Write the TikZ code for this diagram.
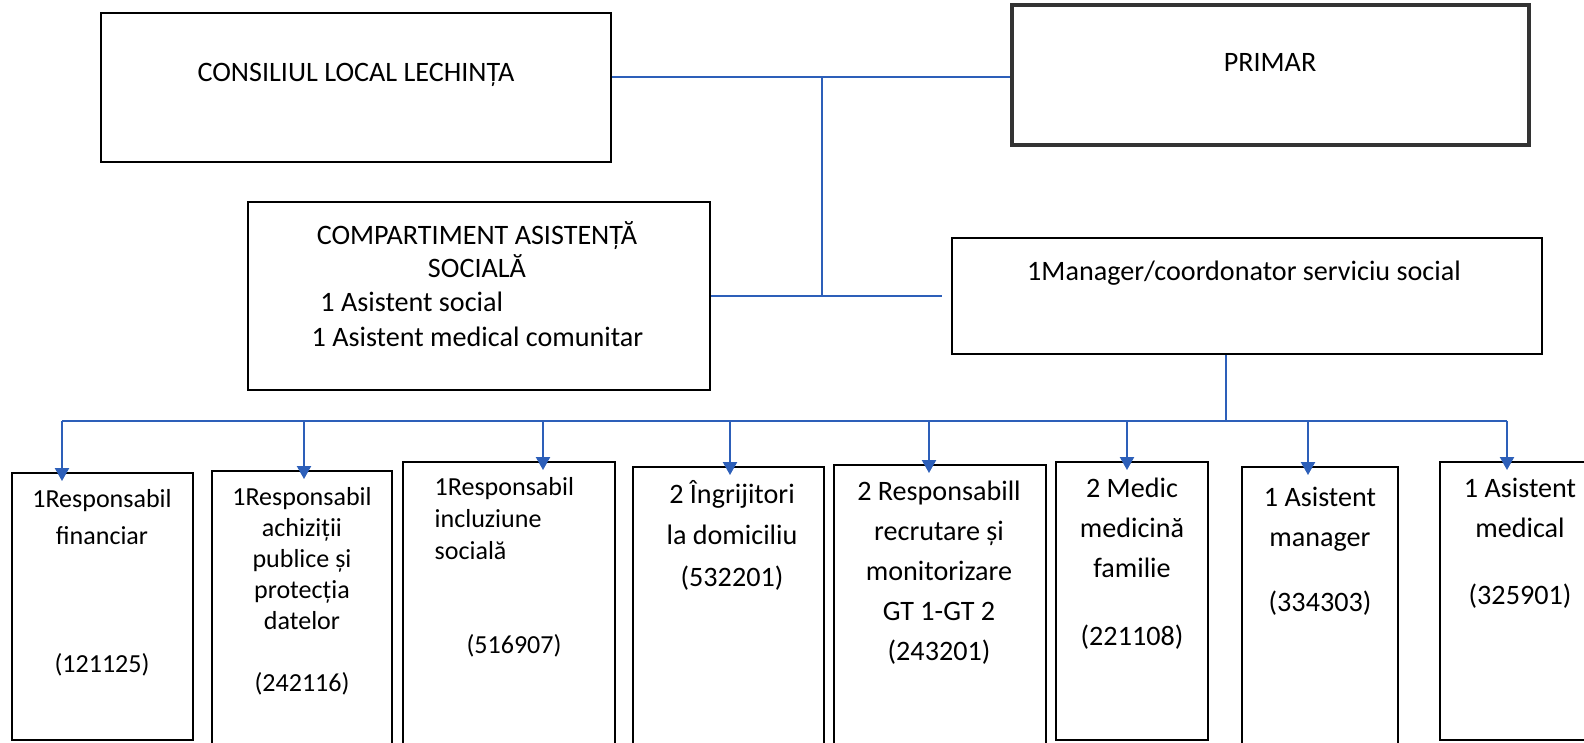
\documentclass[tikz,border=0pt]{standalone}
\usepackage{fontspec}
\setmainfont{Carlito}
\usetikzlibrary{arrows.meta}
\definecolor{linkblue}{RGB}{45,95,185}

\begin{document}
\begin{tikzpicture}[x=0.01cm, y=-0.01cm,
    box/.style={draw, line width=0.5pt, inner sep=0pt},
    txt/.style={inner sep=0pt, align=center, anchor=north},
    lead/.style={font=\fontsize{8}{#1}\selectfont},
    small/.style={font=\fontsize{7.4}{#1}\selectfont},
    link/.style={linkblue, line width=0.6pt},
    down/.style={link, shorten >=-0.09cm, -{Triangle[width=0.14cm, length=0.13cm]}}]

    \useasboundingbox (0,0) rectangle (1584,743);

    % Consiliul local
    \node[box, minimum width=5.10cm, minimum height=1.49cm] (cons) at (356,87.5) {};
    \node[txt, lead=10pt] (cons-t) at (356,63) {CONSILIUL LOCAL LECHINȚA};

    % Primar
    \node[box, line width=1pt, draw=black!80, minimum width=5.17cm, minimum height=1.40cm] (prim) at (1270.5,75) {};
    \node[txt, lead=10pt] (prim-t) at (1270,53) {PRIMAR};

    % Compartiment asistenta sociala
    \node[box, minimum width=4.62cm, minimum height=1.88cm] (comp) at (479,296) {};
    \node[txt, lead=9.4pt] (comp-t) at (477,221) {COMPARTIMENT ASISTENȚĂ\\SOCIALĂ};
    \node[txt, anchor=north west, align=left, lead=10pt] (comp-s) at (311,291)
        {\hspace{2.5pt}1 Asistent social\\1 Asistent medical comunitar};

    % Manager
    \node[box, minimum width=5.90cm, minimum height=1.16cm] (mgr) at (1247,296) {};
    \node[txt, lead=10pt] (mgr-t) at (1244,260) {1Manager/coordonator serviciu social};

    % bottom row
    \node[box, minimum width=1.81cm, minimum height=2.67cm] (fin) at (102.5,606.5) {};
    \node[txt, small=10.5pt] (fin-t) at (102,489) {1Responsabil\\financiar\\[25.9pt](121125)};

    \node[box, minimum width=1.80cm, minimum height=2.79cm] (ach) at (302,610.5) {};
    \node[txt, small=8.8pt] (ach-t) at (302,487)
        {1Responsabil\\achiziții\\publice și\\protecția\\datelor\\[8.8pt](242116)};

    \node[box, minimum width=2.12cm, minimum height=2.88cm] (incl) at (509,606) {};
    \node[txt, anchor=north west, align=left, small=9.1pt] (incl-t) at (434,477)
        {1Responsabil\\incluziune\\socială};
    \node[txt, small=9.1pt] (incl-c) at (514,634) {(516907)};

    \node[box, minimum width=1.91cm, minimum height=2.83cm] (ingr) at (728.5,608.5) {};
    \node[txt, lead=11.7pt] (ingr-t) at (732,480) {2 Îngrijitori\\la domiciliu\\(532201)};

    \node[box, minimum width=2.12cm, minimum height=2.85cm] (recr) at (940,607.5) {};
    \node[txt, lead=11.4pt] (recr-t) at (939,480)
        {2 Responsabill\\recrutare și\\monitorizare\\GT 1-GT 2\\(243201)};

    \node[box, minimum width=1.52cm, minimum height=2.78cm] (med) at (1132,601) {};
    \node[txt, lead=11.4pt] (med-t) at (1132,477) {2 Medic\\medicină\\familie\\[8pt](221108)};

    \node[box, minimum width=1.56cm, minimum height=2.83cm] (asm) at (1320,608.5) {};
    \node[txt, lead=11.4pt] (asm-t) at (1320,486) {1 Asistent\\manager\\[7.1pt](334303)};

    \node[box, minimum width=1.60cm, minimum height=2.78cm] (asmed) at (1520,601) {};
    \node[txt, lead=11.4pt] (asmed-t) at (1520,477) {1 Asistent\\medical\\[7.7pt](325901)};

    % links at the top
    \coordinate (hub) at (822,77);
    \draw[link] (hub -| cons.east) -- (hub -| prim.west);
    \draw[link] (hub) -- (hub |- comp.east);
    \draw[link, shorten >=0.09cm] (comp.east) -- (mgr.west);

    % bus to the bottom row
    \coordinate (bus) at (1226,421);
    \coordinate (busL) at (62,421);
    \coordinate (busR) at (1507,421);
    \draw[link] (mgr.south -| bus) -- (bus);
    \draw[link] (busL) -- (busR);
    \foreach \n/\x in {fin/62, ach/304, incl/543, ingr/730, recr/929, med/1127, asm/1308, asmed/1507} {
        \coordinate (tap-\n) at (\x,421);
        \draw[down] (tap-\n) -- (tap-\n |- \n.north);
    }

\end{tikzpicture}
\end{document}
